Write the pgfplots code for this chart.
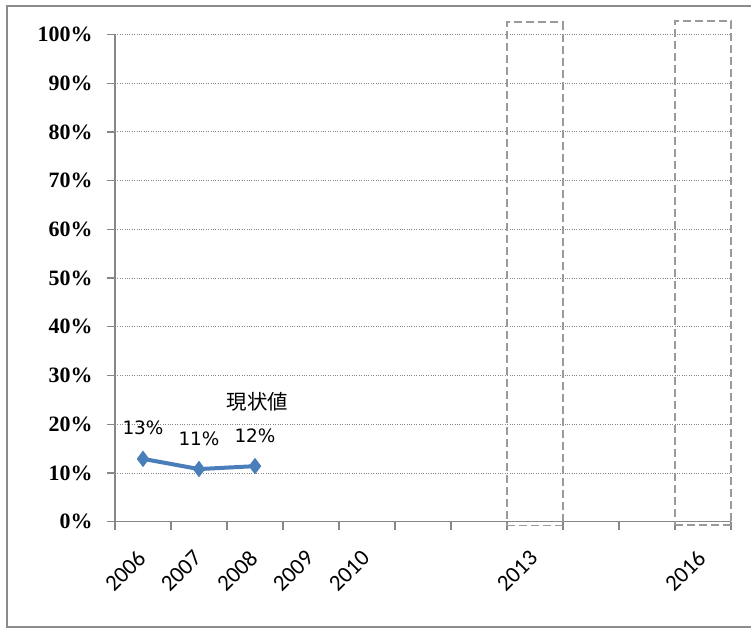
\documentclass[border=0pt]{standalone}
\usepackage{fontspec}
\usepackage{pgfplots}
\pgfplotsset{compat=1.18}
\setmainfont{Liberation Serif}
\newfontfamily\carl{Carlito}
\newfontfamily\dejavu{DejaVu Sans}
\newfontfamily\cjk{Noto Sans CJK JP}
\definecolor{lineblue}{HTML}{4A7EBB}
\definecolor{axisgray}{HTML}{878787}
\definecolor{boxgray}{HTML}{9A9A9A}
\definecolor{framegray}{HTML}{8C8C8C}
\begin{document}
\begin{tikzpicture}
\useasboundingbox (0,0) rectangle (751bp,630bp);
% outer frame (right side runs off the picture)
\draw[framegray, line width=2.2bp] (760bp,3bp) -- (7bp,3bp) -- (7bp,624bp) -- (760bp,624bp);
\begin{axis}[
    at={(115bp,108.3bp)}, anchor=south west,
    scale only axis,
    width=616bp, height=487.2bp,
    xmin=-0.5, xmax=10.5,
    ymin=0, ymax=100,
    clip=false,
    axis x line*=bottom, axis y line*=left,
    axis line style={axisgray, line width=1.4bp, -},
    tick align=outside,
    major tick length=8bp,
    tick style={axisgray, line width=1.2bp},
    xtick={-0.5,0.5,...,10.5},
    x tick label as interval,
    xticklabels={2006,2007,2008,2009,2010,,,2013,,,2016},
    % shifts act in the rotated frame of the label
    x tick label style={font=\carl\fontsize{23}{23}\selectfont, rotate=45, anchor=east, yshift=-16.5bp, xshift=-15bp},
    ytick={0,10,...,100},
    yticklabels={0\%,10\%,20\%,30\%,40\%,50\%,60\%,70\%,80\%,90\%,100\%},
    y tick label style={font=\bfseries\fontsize{22}{22}\selectfont, xshift=-11bp},
    ymajorgrids=true,
    major grid style={axisgray, dotted, line width=0.9bp},
]
% target boxes (dashed outlines)
\addplot[boxgray, line width=1.8bp, dash pattern=on 8bp off 4bp]
    coordinates {(6.5,-0.8) (7.5,-0.8) (7.5,102.5) (6.5,102.5) (6.5,-0.8)};
\addplot[boxgray, line width=1.8bp, dash pattern=on 8bp off 4bp]
    coordinates {(9.5,-0.6) (10.5,-0.6) (10.5,102.8) (9.5,102.8) (9.5,-0.6)};
% current values
\addplot[lineblue, line width=4bp, mark=diamond*, mark size=5bp,
    point meta=explicit symbolic, nodes near coords,
    every node near coord/.style={font=\dejavu\fontsize{18.5}{18.5}\selectfont, text=black, anchor=base, yshift=24bp}]
    coordinates {(0,12.9) [13\%] (1,10.8) [11\%] (2,11.4) [12\%]};
\node[font=\cjk\fontsize{20.5}{20.5}\selectfont] at (axis cs:2.04,24.6) {現状値};
\end{axis}
\end{tikzpicture}
\end{document}
